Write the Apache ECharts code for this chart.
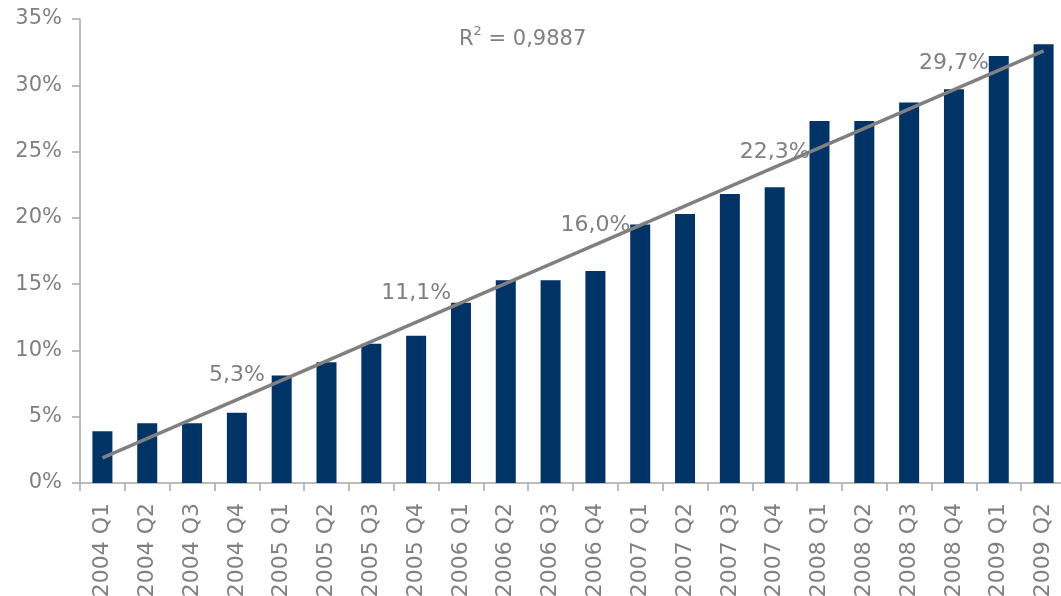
<!DOCTYPE html>
<html>
<head>
<meta charset="utf-8">
<script src="https://cdn.jsdelivr.net/npm/echarts@6/dist/echarts.min.js"></script>
<style>html,body{margin:0;padding:0;background:#fff}#c{width:1061px;height:596px}</style>
</head>
<body>
<div id="c"></div>
<script>
const categories = ["2004 Q1","2004 Q2","2004 Q3","2004 Q4","2005 Q1","2005 Q2","2005 Q3","2005 Q4","2006 Q1","2006 Q2","2006 Q3","2006 Q4","2007 Q1","2007 Q2","2007 Q3","2007 Q4","2008 Q1","2008 Q2","2008 Q3","2008 Q4","2009 Q1","2009 Q2"];
const shareValues = [3.9,4.5,4.5,5.3,8.1,9.1,10.5,11.1,13.6,15.3,15.3,16.0,19.5,20.3,21.8,22.3,27.3,27.3,28.7,29.7,32.2,33.1];
const trendStart = 1.9;
const trendEnd = 32.6;
const rSquared = "0,9887";
const labeledIndices = [3,7,11,15,19];
// label distances above bar top (style only)
const labelDistances = {3:26, 7:32, 11:35, 15:24, 19:15};

const gray = '#808080';
const font = 'DejaVu Sans';

const barData = shareValues.map((v,i) => {
  const item = {value: v};
  if (labeledIndices.includes(i)) {
    item.label = {show: true, position: 'top', distance: labelDistances[i],
      formatter: p => p.value.toFixed(1).replace('.', ',') + '%',
      color: gray, fontFamily: font, fontSize: 22};
  }
  return item;
});
const trendData = categories.map((c,i) => i === 0 ? trendStart : (i === categories.length-1 ? trendEnd : null));

const chart = echarts.init(document.getElementById('c'), null, {renderer: 'canvas'});
chart.setOption({
  animation: false,
  backgroundColor: '#fff',
  grid: {left: 80, right: -5, top: 19, bottom: 113, containLabel: false, outerBoundsMode: 'none'},
  xAxis: {
    type: 'category', data: categories, boundaryGap: true,
    axisLine: {lineStyle: {color: '#a6a6a6', width: 1.5}},
    axisTick: {show: true, length: 8, alignWithLabel: false, lineStyle: {color: '#a6a6a6', width: 1.5}},
    axisLabel: {rotate: 90, interval: 0, margin: 20, color: gray, fontFamily: font, fontSize: 22}
  },
  yAxis: {
    type: 'value', min: 0, max: 35, interval: 5,
    splitLine: {show: false},
    axisLine: {show: true, lineStyle: {color: '#a6a6a6', width: 1.5}},
    axisTick: {show: true, length: 8, lineStyle: {color: '#a6a6a6', width: 1.5}},
    axisLabel: {formatter: '{value}%', margin: 18, color: gray, fontFamily: font, fontSize: 21}
  },
  series: [
    {type: 'bar', data: barData, barWidth: 20, itemStyle: {color: '#003366'}, label: {show: false}, z: 2},
    {type: 'line', data: trendData, connectNulls: true, showSymbol: false, symbol: 'none',
     lineStyle: {color: gray, width: 3.5}, z: 3}
  ],
  graphic: [{
    type: 'text', left: 459, top: 25, z: 10,
    style: {
      text: '{r|R}{s|2}{r| = ' + rSquared + '}',
      rich: {
        r: {fontFamily: font, fontSize: 21, fill: gray, verticalAlign: 'bottom', lineHeight: 25},
        s: {fontFamily: font, fontSize: 13, fill: gray, verticalAlign: 'top', lineHeight: 25}
      }
    }
  }]
});
</script>
</body>
</html>
